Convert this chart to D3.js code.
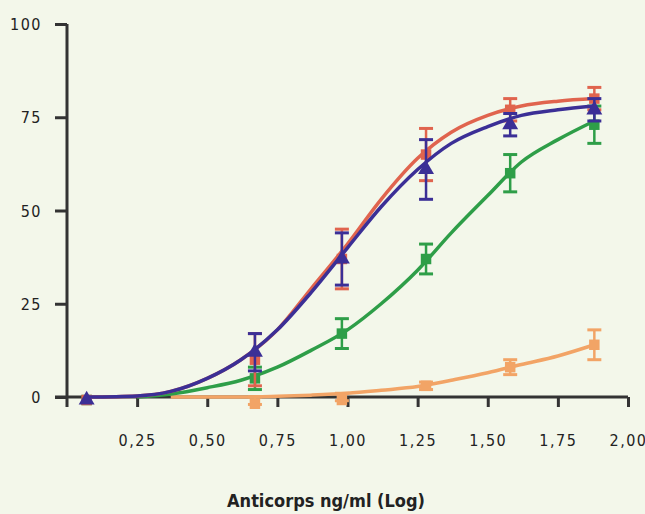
<!DOCTYPE html>
<html>
<head>
<meta charset="utf-8">
<script src="https://cdn.jsdelivr.net/npm/d3@7"></script>
<style>
	body { margin: 0; background: #f3f7ea; }
	svg { display: block; }
	.tick text { font-family: "DejaVu Sans", sans-serif; font-stretch: condensed; font-size: 16px; letter-spacing: 1.5px; fill: #222; }
</style>
</head>
<body>
<div id="chart"></div>
<script>

// measured points (x = log concentration)
var doses = [0.07, 0.67, 0.98, 1.28, 1.58, 1.88];

var redY = [0, 10, 37, 65, 77, 80];
var redErr = [0, 7, 8, 7, 3, 3];

var blueY = [0, 12, 37, 61, 73, 77];
var blueErr = [0, 5, 7, 8, 3, 3];

var greenY = [0, 5, 17, 37, 60, 73];
var greenErr = [0, 3, 4, 4, 5, 5];

var orangeY = [null, -1, 0, 3, 8, 14];
var orangeErr = [0, 1, 1, 1, 2, 4];

// fitted curves
var fitX = [0.07, 0.25, 0.37, 0.5, 0.62, 0.75, 0.87, 1.0, 1.12, 1.25, 1.37, 1.5, 1.62, 1.75, 1.88];
var redFit = [0, 0.3, 1.5, 5, 10, 18, 29, 41, 53, 64, 71, 75.5, 78, 79.3, 80];
var blueFit = [0, 0.3, 1.5, 5, 10, 18, 28, 40, 51, 61, 68, 72.5, 75.5, 77, 78];
var greenFit = [null, 0, 0.8, 2.5, 4.5, 8, 12.5, 18, 25, 34, 44, 54, 63, 69, 74];
var orangeFit = [null, null, 0, 0, 0, 0.2, 0.5, 1, 1.8, 2.8, 4.5, 6.5, 8.7, 11, 14];

var xTicks = [0.25, 0.5, 0.75, 1.0, 1.25, 1.5, 1.75, 2.0];
var yTicks = [0, 25, 50, 75, 100];

var width = 645, height = 514;

var x = d3.scaleLinear().domain([0, 2]).range([67, 628]);
var y = d3.scaleLinear().domain([0, 100]).range([397, 24]);

var svg = d3.select("#chart")
	.append("svg")
	.attr("width", width)
	.attr("height", height);

// axes
var yAxis = svg.append("g")
	.attr("transform", "translate(" + x(0) + ",0)")
	.call(d3.axisLeft(y).tickValues(yTicks).tickSize(12).tickPadding(13));

var xAxis = svg.append("g")
	.attr("transform", "translate(0," + y(0) + ")")
	.call(d3.axisBottom(x).tickValues(xTicks).tickSize(10).tickPadding(28)
		.tickFormat(function(d) { return d3.format(".2f")(d).replace(".", ","); }));

[yAxis, xAxis].forEach(function(a) {
	a.select(".domain").attr("stroke", "#333").attr("stroke-width", 3);
	a.selectAll(".tick line").attr("stroke", "#333").attr("stroke-width", 3);
});
yAxis.select(".domain").attr("d", "M0," + y(100) + "V" + (y(0) + 10));
xAxis.select(".domain").attr("d", "M" + (x(0) - 12) + ",0H" + x(2));
yAxis.selectAll(".tick text").attr("dy", "0.35em");

var series = [
	{ ys: orangeY, err: orangeErr, fit: orangeFit, color: "#f2a466", shape: "square" },
	{ ys: greenY, err: greenErr, fit: greenFit, color: "#2e9e48", shape: "square" },
	{ ys: redY, err: redErr, fit: redFit, color: "#e0644e", shape: "square" },
	{ ys: blueY, err: blueErr, fit: blueFit, color: "#3b2f96", shape: "triangle" }
];

var line = d3.line()
	.defined(function(d) { return d[1] != null; })
	.x(function(d) { return x(d[0]); })
	.y(function(d) { return y(d[1]); })
	.curve(d3.curveMonotoneX);

series.forEach(function(s) {
	var g = svg.append("g");

	var pts = doses.map(function(d, i) { return [d, s.ys[i], s.err[i]]; })
		.filter(function(p) { return p[1] != null; });

	// error bars
	pts.forEach(function(p) {
		if (!p[2]) return;
		var cx = x(p[0]);
		var top = y(p[1] + p[2]), bot = y(p[1] - p[2]);
		g.append("line").attr("x1", cx).attr("x2", cx).attr("y1", top).attr("y2", bot)
			.attr("stroke", s.color).attr("stroke-width", 2.5);
		[top, bot].forEach(function(yy) {
			g.append("line").attr("x1", cx - 7).attr("x2", cx + 7).attr("y1", yy).attr("y2", yy)
				.attr("stroke", s.color).attr("stroke-width", 3);
		});
	});

	g.append("path")
		.attr("d", line(fitX.map(function(d, i) { return [d, s.fit[i]]; })))
		.attr("fill", "none")
		.attr("stroke", s.color)
		.attr("stroke-width", 3.5);

	var sym = d3.symbol().type(s.shape == "triangle" ? d3.symbolTriangle : d3.symbolSquare).size(110);
	g.selectAll("path.m")
		.data(pts)
		.enter().append("path")
		.attr("class", "m")
		.attr("d", sym)
		.attr("transform", function(p) { return "translate(" + x(p[0]) + "," + (y(p[1]) + (p[1] <= 0 ? 3 : 0)) + ")"; })
		.attr("fill", s.color);
});

svg.append("text")
	.attr("x", 326)
	.attr("y", 507)
	.attr("text-anchor", "middle")
	.style("font-family", "'DejaVu Sans', sans-serif")
	.style("font-stretch", "condensed")
	.style("font-weight", "bold")
	.style("font-size", "18px")
	.style("fill", "#222")
	.text("Anticorps ng/ml (Log)");

</script>
</body>
</html>
